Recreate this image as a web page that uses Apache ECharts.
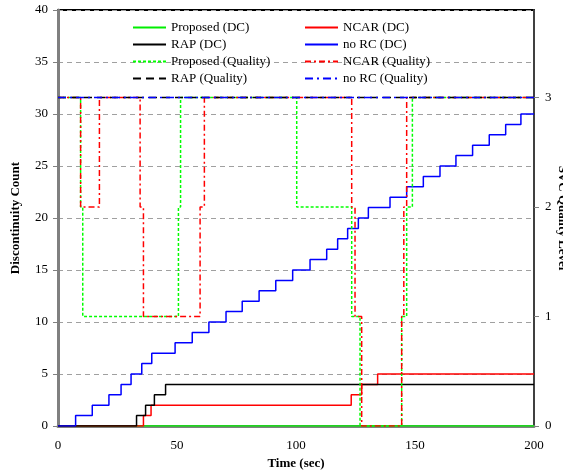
<!DOCTYPE html>
<html>
<head>
<meta charset="utf-8">
<script src="https://cdn.jsdelivr.net/npm/echarts@6/dist/echarts.min.js"></script>
<style>html,body{margin:0;padding:0;background:#fff;}#c{width:563px;height:476px;}</style>
</head>
<body>
<div id="c"></div>
<script>
// Data: [time (sec), value] pairs; each value holds until the next change
var xTicks = [0, 50, 100, 150, 200];
var proposedDC = [[0,0],[200,0]];
var ncarDC = [[0,0],[35.9,1],[39.1,2],[123.2,3],[127.6,4],[134.3,5],[200,5]];
var rapDC = [[0,0],[33,1],[36.8,2],[40.5,3],[45.2,4],[200,4]];
var noRcDC = [[0,0],[7.4,1],[14.4,2],[21.4,3],[26.5,4],[30.7,5],[35.2,6],[39.4,7],[49.2,8],[56.4,9],[63.4,10],[70.6,11],[77.4,12],[84.5,13],[91.5,14],[98.6,15],[105.9,16],[112.9,17],[117.5,18],[121.7,19],[126.2,20],[130.4,21],[139.5,22],[146.5,23],[153.5,24],[160.5,25],[167.2,26],[174.2,27],[181.2,28],[188.1,29],[194.5,30],[200,30]];
var proposedQ = [[0,3],[9.5,2],[10.4,1],[50.6,2],[51.5,3],[100.3,2],[123.4,1],[126.9,0],[144.4,1],[146.5,2],[148.9,3],[200,3]];
var ncarQ = [[0,3],[9.5,2],[17.4,3],[34.5,2],[35.9,1],[59.7,2],[61.5,3],[123.4,2],[124.8,1],[127.6,0],[144.4,1],[145.3,2],[146.5,3],[200,3]];
var rapQ = [[0,3],[200,3]];
var noRcQ = [[0,3],[200,3]];

var FONT = 'Liberation Serif';
function mk(name, data, color, yIdx, type) {
  return {
    name: name, type: 'line', data: data, yAxisIndex: yIdx, step: 'end',
    symbol: 'none', silent: true,
    lineStyle: { color: color, width: 1.5, type: type || 'solid' },
    itemStyle: { color: color }
  };
}
var legendBase = {
  orient: 'vertical', top: 21, padding: 0, itemWidth: 33, itemHeight: 14, itemGap: 4,
  itemStyle: { opacity: 0 },
  textStyle: { fontFamily: FONT, fontSize: 13, color: '#000' }
};
var chart = echarts.init(document.getElementById('c'), null, { renderer: 'canvas' });
chart.setOption({
  animation: false,
  backgroundColor: '#fff',
  textStyle: { fontFamily: FONT, color: '#000' },
  grid: { left: 58, right: 29, top: 10, bottom: 50, outerBoundsMode: 'none', containLabel: false,
          show: true, borderColor: '#000', borderWidth: 2, backgroundColor: 'transparent' },
  legend: [
    Object.assign({}, legendBase, { left: 132, data: ['Proposed (DC)', 'RAP (DC)', 'Proposed (Quality)', 'RAP (Quality)'] }),
    Object.assign({}, legendBase, { left: 304, data: ['NCAR (DC)', 'no RC (DC)', 'NCAR (Quality)', 'no RC (Quality)'] })
  ],
  xAxis: {
    type: 'value', min: xTicks[0], max: xTicks[xTicks.length - 1], interval: 50,
    name: 'Time (sec)', nameLocation: 'middle', nameGap: 30,
    nameTextStyle: { fontFamily: FONT, fontSize: 13, fontWeight: 'bold', color: '#000' },
    axisLine: { lineStyle: { color: '#808080', width: 3 } },
    axisTick: { show: false },
    splitLine: { show: false },
    axisLabel: { fontFamily: FONT, fontSize: 13, color: '#000', margin: 13 }
  },
  yAxis: [
    { type: 'value', min: 0, max: 40, interval: 5, position: 'left',
      name: 'Discontinuity Count', nameLocation: 'middle', nameGap: 36,
      nameTextStyle: { fontFamily: FONT, fontSize: 13, fontWeight: 'bold', color: '#000' },
      axisLine: { show: true, lineStyle: { color: '#808080', width: 3 } },
      axisTick: { show: true, length: 5, lineStyle: { color: '#808080' } },
      splitLine: { show: true, lineStyle: { color: '#a0a0a0', type: [5, 4], width: 1 } },
      axisLabel: { fontFamily: FONT, fontSize: 13, color: '#000', margin: 10 } },
    { type: 'value', min: 0, max: 3.8, interval: 1, position: 'right',
      name: 'SVC Quality Level', nameLocation: 'middle', nameGap: 22, nameRotate: -90,
      nameMoveOverlap: false,
      nameTextStyle: { fontFamily: FONT, fontSize: 13, fontWeight: 'bold', color: '#000' },
      axisLine: { show: true, lineStyle: { color: '#404040', width: 2 } },
      axisTick: { show: true, length: 5, lineStyle: { color: '#808080' } },
      splitLine: { show: false },
      axisLabel: { fontFamily: FONT, fontSize: 13, color: '#000', margin: 11, showMaxLabel: false } }
  ],
  series: [
    mk('Proposed (DC)', proposedDC, '#00ee00', 0),
    mk('NCAR (DC)', ncarDC, '#ff0000', 0),
    mk('RAP (DC)', rapDC, '#000000', 0),
    mk('no RC (DC)', noRcDC, '#0000ff', 0),
    mk('Proposed (Quality)', proposedQ, '#00ff00', 1, [3, 2]),
    mk('NCAR (Quality)', ncarQ, '#ff0000', 1, [6, 3, 2, 3]),
    mk('RAP (Quality)', rapQ, '#000000', 1, [8, 5]),
    mk('no RC (Quality)', noRcQ, '#0000ff', 1, [8, 4, 2, 4])
  ]
});
</script>
</body>
</html>
